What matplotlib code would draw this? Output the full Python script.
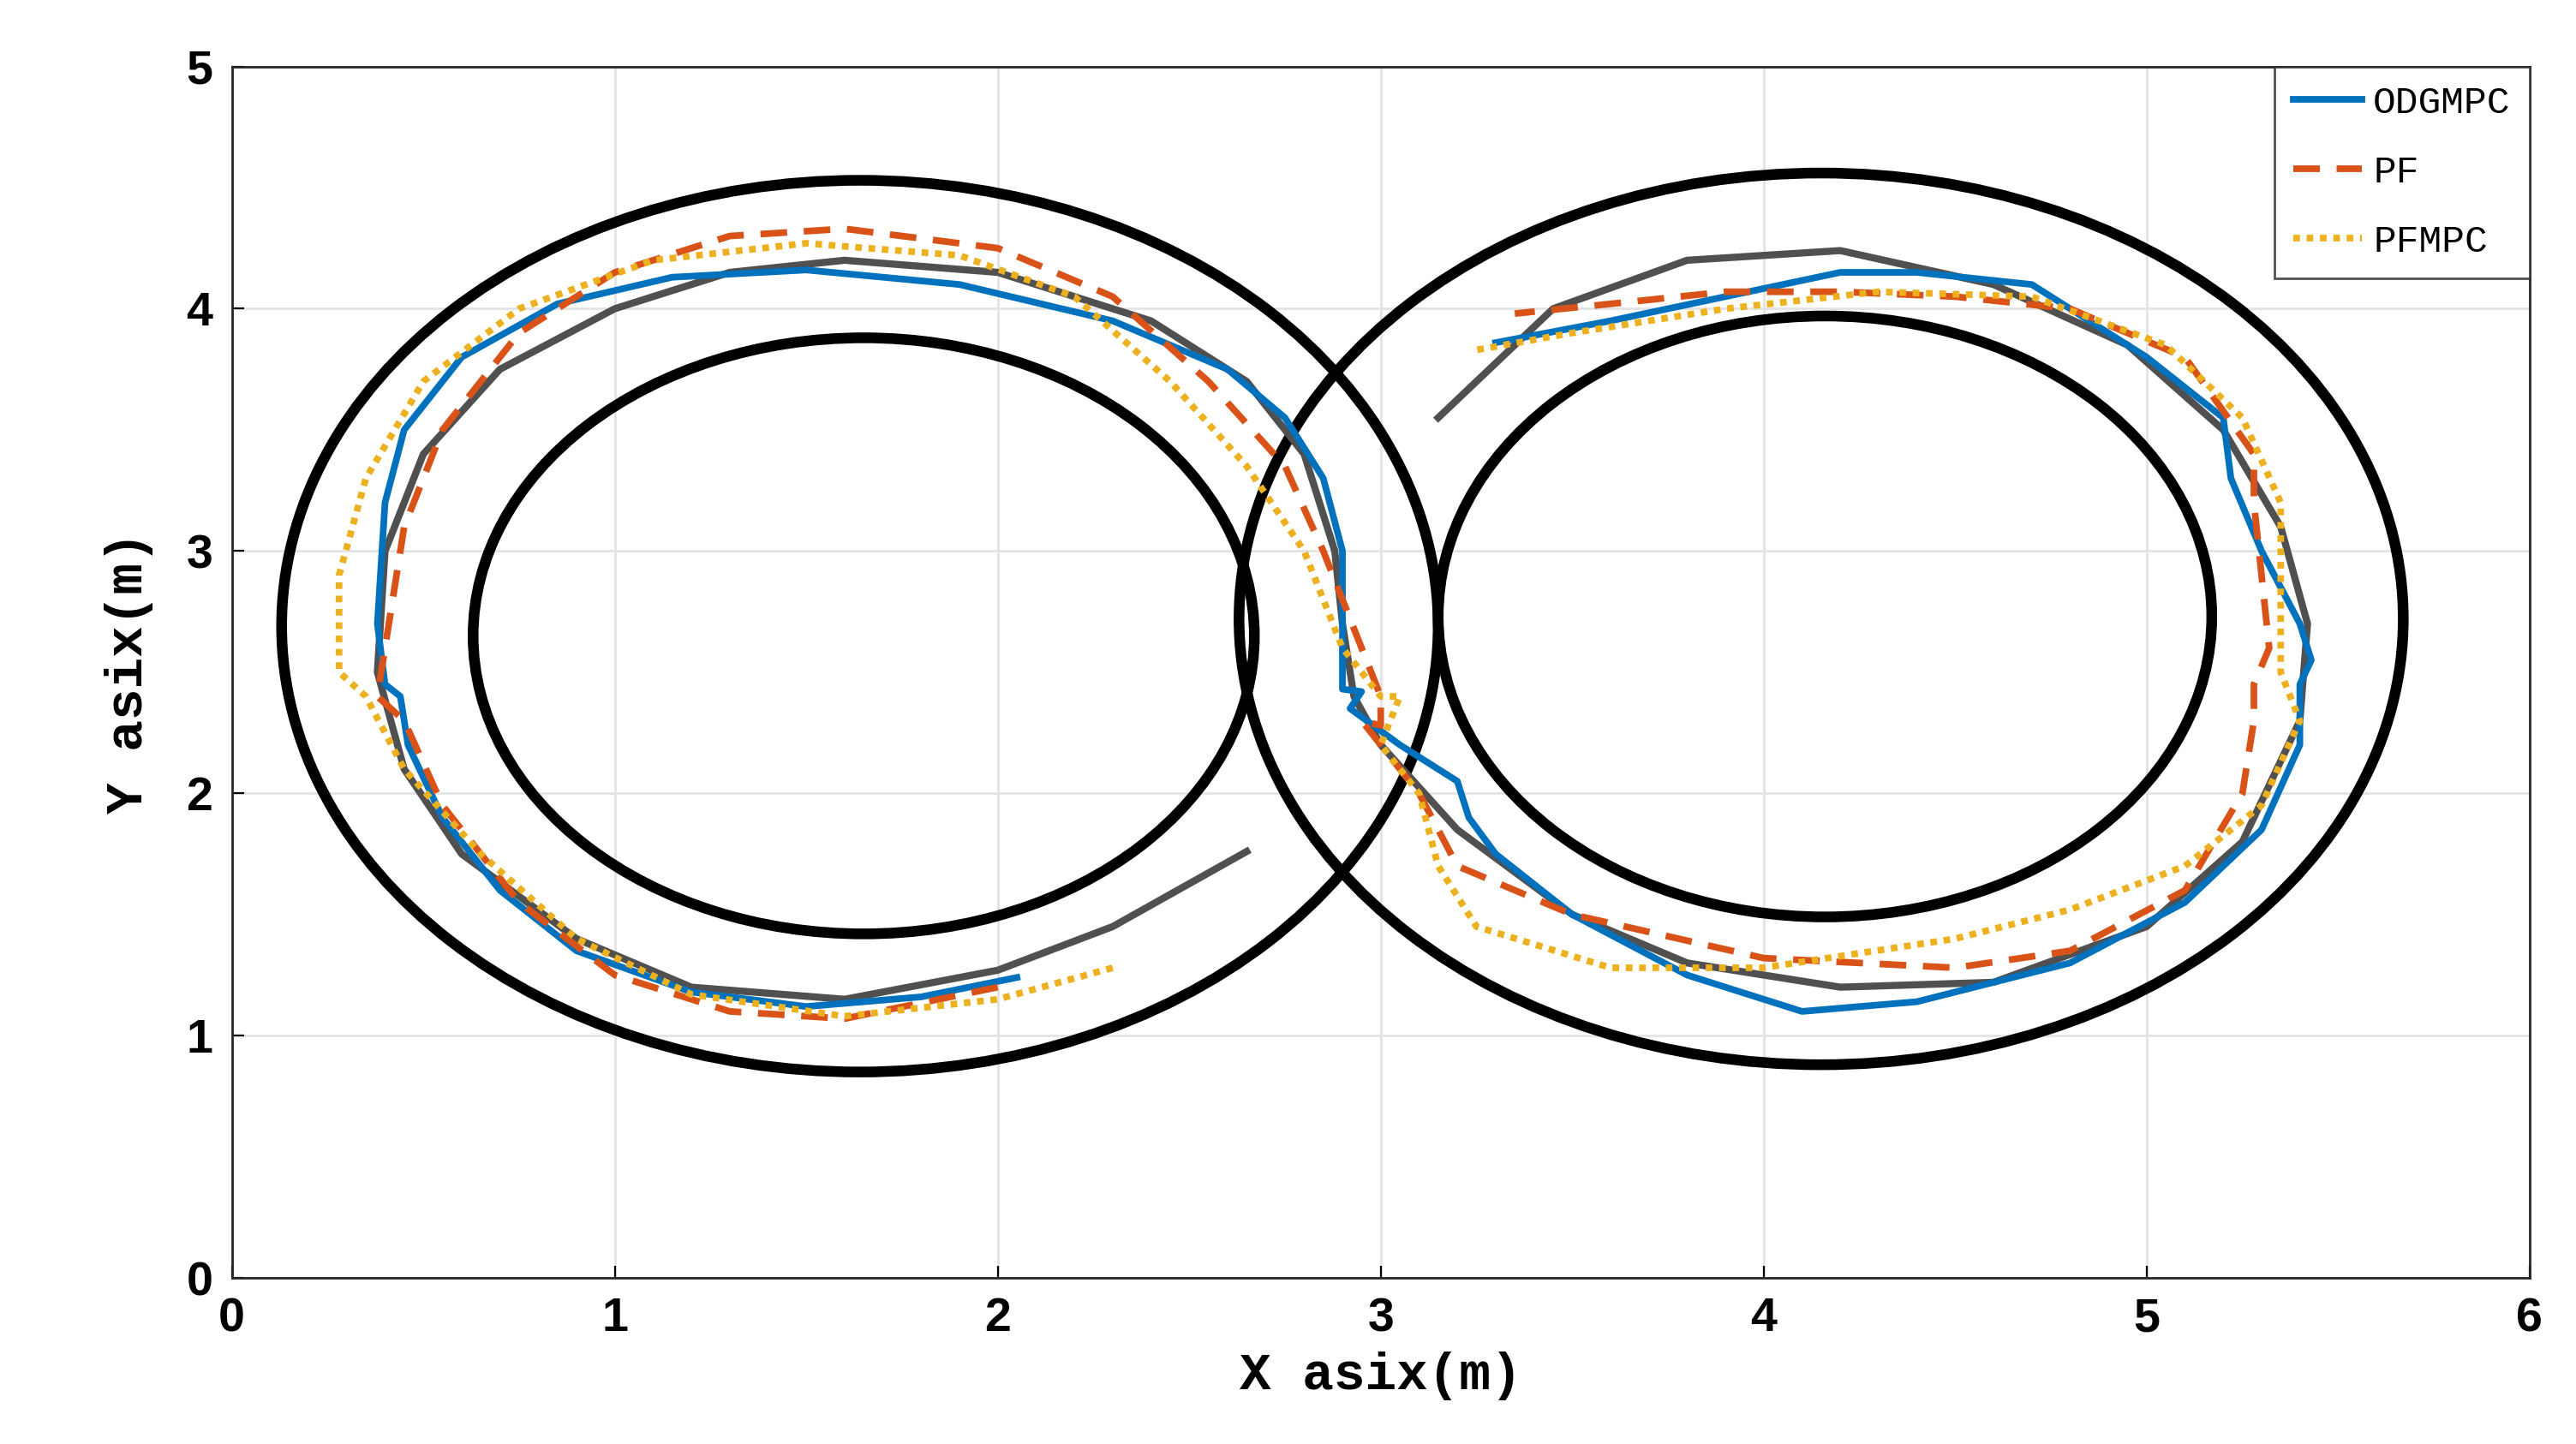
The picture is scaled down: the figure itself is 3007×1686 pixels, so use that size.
import matplotlib
matplotlib.use("Agg")
import matplotlib.pyplot as plt
from matplotlib.patches import Ellipse

# track boundaries: (center x, center y, width, height)
track_ellipses = [
    (1.64, 2.69, 3.02, 3.68),   # left outer
    (1.65, 2.65, 2.04, 2.46),   # left inner
    (4.15, 2.72, 3.04, 3.68),   # right outer
    (4.16, 2.73, 2.02, 2.48),   # right inner
]

ref_x = [2.65, 2.3, 2.0, 1.6, 1.2, 0.9, 0.6, 0.45, 0.38, 0.4, 0.5, 0.7, 1.0, 1.3, 1.6, 2.0, 2.4, 2.65, 2.8, 2.88,
         2.9, 2.93, 3.0, 3.2, 3.5, 3.8, 4.2, 4.6, 5.0, 5.25, 5.4, 5.42, 5.35, 5.2, 4.95, 4.6, 4.2, 3.8, 3.45, 3.15]
ref_y = [1.76, 1.45, 1.27, 1.15, 1.2, 1.4, 1.75, 2.1, 2.5, 3.0, 3.4, 3.75, 4.0, 4.15, 4.2, 4.15, 3.95, 3.7, 3.4, 3.0,
         2.7, 2.4, 2.2, 1.85, 1.5, 1.3, 1.2, 1.22, 1.45, 1.8, 2.3, 2.7, 3.1, 3.5, 3.85, 4.1, 4.24, 4.2, 4.0, 3.55]

odg_x = [2.05, 1.8, 1.5, 1.2, 0.9, 0.7, 0.55, 0.46, 0.44, 0.4, 0.38, 0.4, 0.45, 0.6, 0.85, 1.15, 1.5, 1.9, 2.3, 2.6,
         2.75, 2.85, 2.9, 2.9, 2.9, 2.95, 2.92, 3.05, 3.2, 3.23, 3.3, 3.5, 3.8, 4.1, 4.4, 4.8, 5.1, 5.3, 5.4, 5.4,
         5.43, 5.4, 5.3, 5.22, 5.2, 5.0, 4.7, 4.4, 4.2, 3.9, 3.6, 3.3]
odg_y = [1.24, 1.16, 1.12, 1.18, 1.35, 1.6, 1.9, 2.2, 2.4, 2.45, 2.7, 3.2, 3.5, 3.8, 4.02, 4.13, 4.16, 4.1, 3.95, 3.75,
         3.55, 3.3, 3.0, 2.6, 2.43, 2.42, 2.35, 2.2, 2.05, 1.9, 1.75, 1.5, 1.25, 1.1, 1.14, 1.3, 1.55, 1.85, 2.2, 2.45,
         2.55, 2.7, 3.0, 3.3, 3.55, 3.8, 4.1, 4.15, 4.15, 4.05, 3.95, 3.86]

pf_x = [2.0, 1.6, 1.3, 1.0, 0.75, 0.55, 0.45, 0.38, 0.42, 0.45, 0.55, 0.75, 1.0, 1.3, 1.6, 2.0, 2.3, 2.55, 2.75, 2.85,
        2.95, 3.0, 3.0, 2.95, 3.1, 3.2, 3.5, 4.0, 4.5, 4.8, 5.1, 5.25, 5.28, 5.28, 5.32, 5.3, 5.28, 5.28, 5.1, 4.8,
        4.5, 4.2, 3.9, 3.6, 3.35]
pf_y = [1.2, 1.07, 1.1, 1.25, 1.55, 1.95, 2.3, 2.4, 2.8, 3.1, 3.5, 3.9, 4.15, 4.3, 4.33, 4.25, 4.05, 3.7, 3.35, 3.0,
        2.6, 2.4, 2.28, 2.3, 2.0, 1.7, 1.5, 1.32, 1.28, 1.35, 1.6, 2.0, 2.3, 2.45, 2.6, 2.9, 3.2, 3.4, 3.8, 4.0,
        4.05, 4.07, 4.07, 4.02, 3.98]

pfm_x = [2.3, 2.0, 1.6, 1.2, 0.9, 0.65, 0.45, 0.35, 0.28, 0.28, 0.35, 0.5, 0.75, 1.1, 1.5, 1.9, 2.2, 2.45, 2.65, 2.8,
         2.9, 3.0, 3.05, 3.0, 3.1, 3.15, 3.25, 3.6, 4.0, 4.5, 4.8, 5.1, 5.3, 5.4, 5.35, 5.35, 5.35, 5.25, 5.05, 4.7,
         4.3, 3.9, 3.5, 3.25]
pfm_y = [1.28, 1.15, 1.08, 1.17, 1.4, 1.75, 2.1, 2.4, 2.5, 2.9, 3.3, 3.7, 4.0, 4.2, 4.27, 4.22, 4.05, 3.7, 3.35, 3.0,
         2.6, 2.4, 2.4, 2.2, 2.0, 1.7, 1.45, 1.28, 1.28, 1.4, 1.52, 1.7, 1.95, 2.3, 2.5, 2.8, 3.2, 3.55, 3.85, 4.05,
         4.07, 4.0, 3.9, 3.83]

fig = plt.figure(figsize=(15.035, 8.43), dpi=200)
ax = fig.add_axes([0.09, 0.115, 0.892, 0.839])

for cx, cy, w, h in track_ellipses:
    ax.add_patch(Ellipse((cx, cy), w, h, fill=False, edgecolor='black', linewidth=4.5, zorder=2))

ax.plot(ref_x, ref_y, color='#505050', linewidth=3, zorder=3)
ax.plot(odg_x, odg_y, color='#0072BD', linewidth=2.8, label='ODGMPC', zorder=4)
ax.plot(pf_x, pf_y, color='#D95319', linewidth=2.8, linestyle=(0, (4, 2.5)), label='PF', zorder=4)
ax.plot(pfm_x, pfm_y, color='#EDB120', linewidth=2.8, linestyle=(0, (1, 1)), label='PFMPC', zorder=4)

ax.set_xlim(0, 6)
ax.set_ylim(0, 5)
ax.set_xticks(range(7))
ax.set_yticks(range(6))
ax.grid(True, color='#e3e3e3', linewidth=1)
ax.set_axisbelow(True)
for s in ax.spines.values():
    s.set_color('#262626')
    s.set_linewidth(1)
ax.tick_params(direction='in', length=5, labelsize=20, pad=8)
for lab in ax.get_xticklabels() + ax.get_yticklabels():
    lab.set_fontweight('bold')
    lab.set_family('Liberation Sans')
ax.set_xlabel('X asix(m)', fontsize=22, fontweight='bold', family='Liberation Mono', labelpad=4)
ax.set_ylabel('Y asix(m)', fontsize=22, fontweight='bold', family='Liberation Mono', labelpad=14)

leg = ax.legend(loc='upper right', prop={'family': 'Liberation Mono', 'size': 16},
                fancybox=False, edgecolor='#262626', handlelength=1.8, handletextpad=0.3,
                borderaxespad=0, labelspacing=0.9, borderpad=0.5)
leg.get_frame().set_linewidth(1)

fig.savefig('out.png', dpi=200)
